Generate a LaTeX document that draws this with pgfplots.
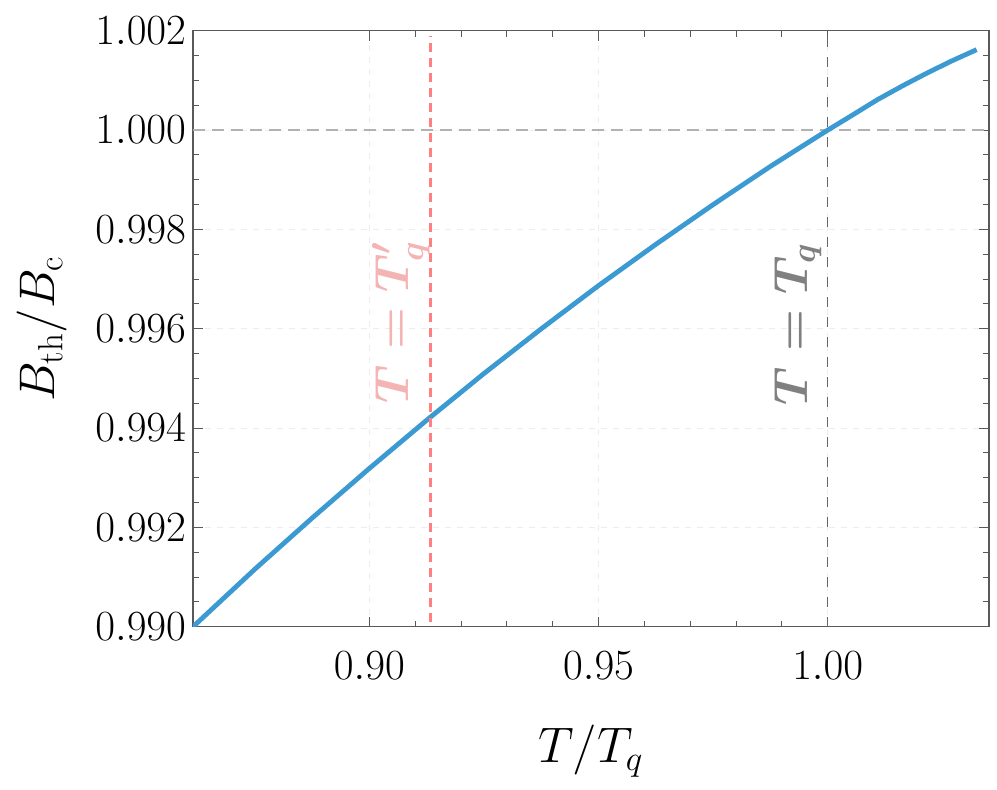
\RequirePackage{fix-cm}
\documentclass[border=0pt]{standalone}
\usepackage{pgfplots}
\pgfplotsset{compat=1.18}
\definecolor{curveblue}{HTML}{3C9AD2}
\definecolor{tqred}{HTML}{FF8080}
\definecolor{tqpink}{HTML}{F4B4B4}
\definecolor{tqgrey}{HTML}{808080}

\pgfplotstableread{
x y
0.8615 0.99000
0.8750 0.99116
0.8875 0.99219
0.9000 0.99319
0.9125 0.99416
0.9250 0.99510
0.9375 0.99600
0.9500 0.99687
0.9625 0.99770
0.9750 0.99850
0.9875 0.99927
1.0000 1.00000
1.0050 1.00028
1.0108 1.00061
1.0163 1.00089
1.0217 1.00115
1.0270 1.00139
1.0325 1.00162
}\bthcurve

\begin{document}
\begin{tikzpicture}
\begin{axis}[name=ax, scale only axis, width=398pt, height=298pt,
    xmin=0.8615, xmax=1.0352, ymin=0.990, ymax=1.002,
    xtick={0.90,0.95,1.00}, ytick={0.990,0.992,0.994,0.996,0.998,1.000,1.002},
    minor x tick num=4, minor y tick num=3,
    tick align=inside, major tick length=5pt, minor tick length=3pt,
    scaled ticks=false,
    xticklabel style={/pgf/number format/fixed, /pgf/number format/fixed zerofill, /pgf/number format/precision=2, yshift=-9pt},
    yticklabel style={/pgf/number format/fixed, /pgf/number format/fixed zerofill, /pgf/number format/precision=3},
    ticklabel style={font=\fontsize{21.5}{26}\selectfont},
    grid=major, major grid style={dashed, color=black!7, line width=0.5pt},
    axis line style={color=black!65, line width=0.7pt},
    every tick/.style={color=black!65, line width=0.5pt},
    ]
\addplot[color=black!30, line width=0.75pt, dash pattern=on 6pt off 3.5pt] coordinates {(0.8615,1.0) (1.0352,1.0)};
\addplot[color=black!60, line width=0.45pt, dash pattern=on 5pt off 5pt] coordinates {(1.0,0.990) (1.0,1.002)};
\addplot[color=curveblue, line width=2.4pt] table[x=x, y=y] {\bthcurve};
\addplot[color=tqred, line width=1.5pt, dash pattern=on 4.5pt off 3pt] coordinates {(0.9133,0.9901) (0.9133,1.0019)};
\node[rotate=90, anchor=base west, inner sep=0pt, text=tqpink, font=\fontsize{24}{29}\selectfont] at (axis cs:0.9085,0.99449) {{\boldmath$T = T^{\prime}_{q}$}};
\node[rotate=90, anchor=base west, inner sep=0pt, text=tqgrey, font=\fontsize{24}{29}\selectfont] at (axis cs:0.99565,0.99445) {{\boldmath$T = T_{q}$}};
\end{axis}
\node[anchor=base, font=\fontsize{25}{30}\selectfont] at ([yshift=-68pt]ax.south) {$T/T_q$};
\node[rotate=90, anchor=base, font=\fontsize{25}{30}\selectfont] at ([xshift=-69pt]ax.west) {$B_{\mathrm{th}}/B_{\mathrm{c}}$};
\pgfresetboundingbox
\path ([shift={(-96.5pt,-81.5pt)}]ax.south west) rectangle ([shift={(4pt,15.4pt)}]ax.north east);
\end{tikzpicture}
\end{document}
